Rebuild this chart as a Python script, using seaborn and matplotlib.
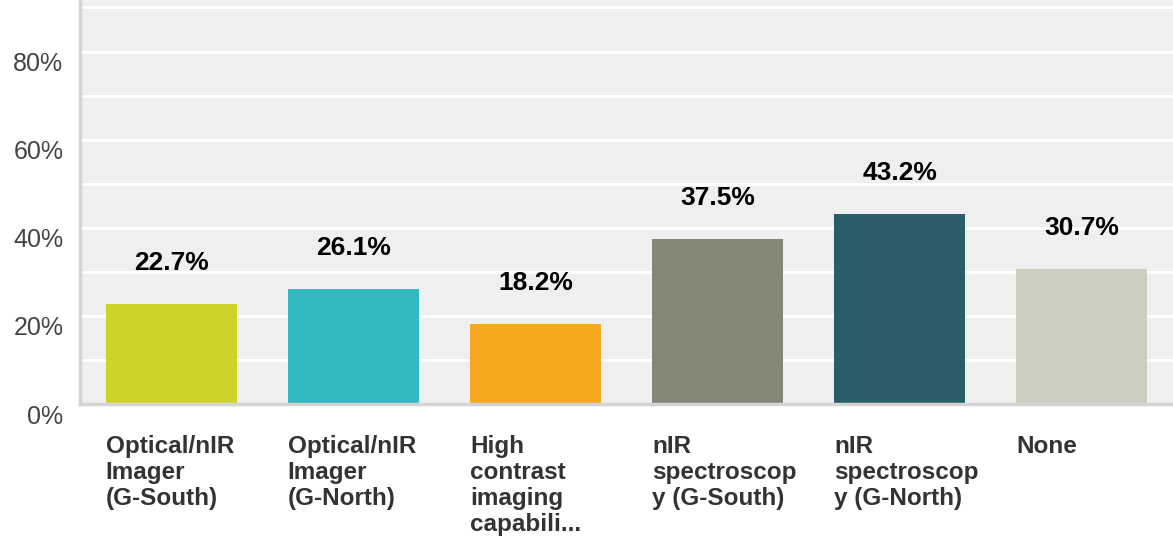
import matplotlib
matplotlib.use("Agg")
import matplotlib.pyplot as plt
import matplotlib.transforms as mtransforms
from matplotlib.ticker import FixedLocator, MultipleLocator
import seaborn as sns
import pandas as pd

categories = [
    "Optical/nIR\nImager\n(G-South)",
    "Optical/nIR\nImager\n(G-North)",
    "High\ncontrast\nimaging\ncapabili...",
    "nIR\nspectroscop\ny (G-South)",
    "nIR\nspectroscop\ny (G-North)",
    "None",
]
values = [22.7, 26.1, 18.2, 37.5, 43.2, 30.7]
value_labels = ["22.7%", "26.1%", "18.2%", "37.5%", "43.2%", "30.7%"]
colors = ["#cdd429", "#35b9c1", "#f6a91e", "#858675", "#2b5d69", "#cdcdbf"]
ytick_values = [0, 20, 40, 60, 80]
ytick_labels = ["0%", "20%", "40%", "60%", "80%"]

sns.set_theme(style="white")
plt.rcParams["font.family"] = ["Liberation Sans", "DejaVu Sans"]

df = pd.DataFrame({"cat": categories, "val": values})

fig = plt.figure(figsize=(11.73, 5.41), dpi=100)
ax = fig.add_axes([80 / 1173, (541 - 404) / 541, 1 - 80 / 1173, 404 / 541])
ax.set_facecolor("#efefef")

sns.barplot(data=df, x="cat", y="val", hue="cat", palette=colors, width=0.72,
            saturation=1, legend=False, ax=ax, zorder=3, edgecolor="none")

ax.set_xlim(-0.5, 5.5)
ax.set_ylim(0, 91.7)
ax.yaxis.set_major_locator(FixedLocator(ytick_values))
ax.set_yticklabels(ytick_labels)
ax.yaxis.set_minor_locator(MultipleLocator(10))
ax.grid(True, which="both", axis="y", color="white", linewidth=2.2, zorder=0)
ax.set_axisbelow(True)
ax.set_xlabel("")
ax.set_ylabel("")

for s in ["top", "right"]:
    ax.spines[s].set_visible(False)
for s in ["left", "bottom"]:
    ax.spines[s].set_color("#d4d4d4")
    ax.spines[s].set_linewidth(2.5)
    ax.spines[s].set_zorder(4)

ax.tick_params(axis="y", which="both", length=0, labelsize=18, labelcolor="#444444", pad=12)
ax.tick_params(axis="x", length=0, labelsize=17.5, labelcolor="#333333", pad=22)

# y labels sit slightly below their gridlines
yoff = mtransforms.ScaledTranslation(0, -10 / 100, fig.dpi_scale_trans)
for lab in ax.get_yticklabels():
    lab.set_transform(lab.get_transform() + yoff)

ax.set_xticks(range(len(categories)))
ax.set_xticklabels(categories, fontweight="bold", ha="left", va="top", linespacing=1.17)
xoff = mtransforms.ScaledTranslation(-65.5 / 100, 0, fig.dpi_scale_trans)
for lab in ax.get_xticklabels():
    lab.set_transform(lab.get_transform() + xoff)

for i, (v, t) in enumerate(zip(values, value_labels)):
    ax.annotate(t, xy=(i, v), xytext=(0, 29.5), textcoords="offset points",
                ha="center", va="center", fontsize=19, fontweight="bold", color="black")

fig.savefig("out.png", dpi=100)
